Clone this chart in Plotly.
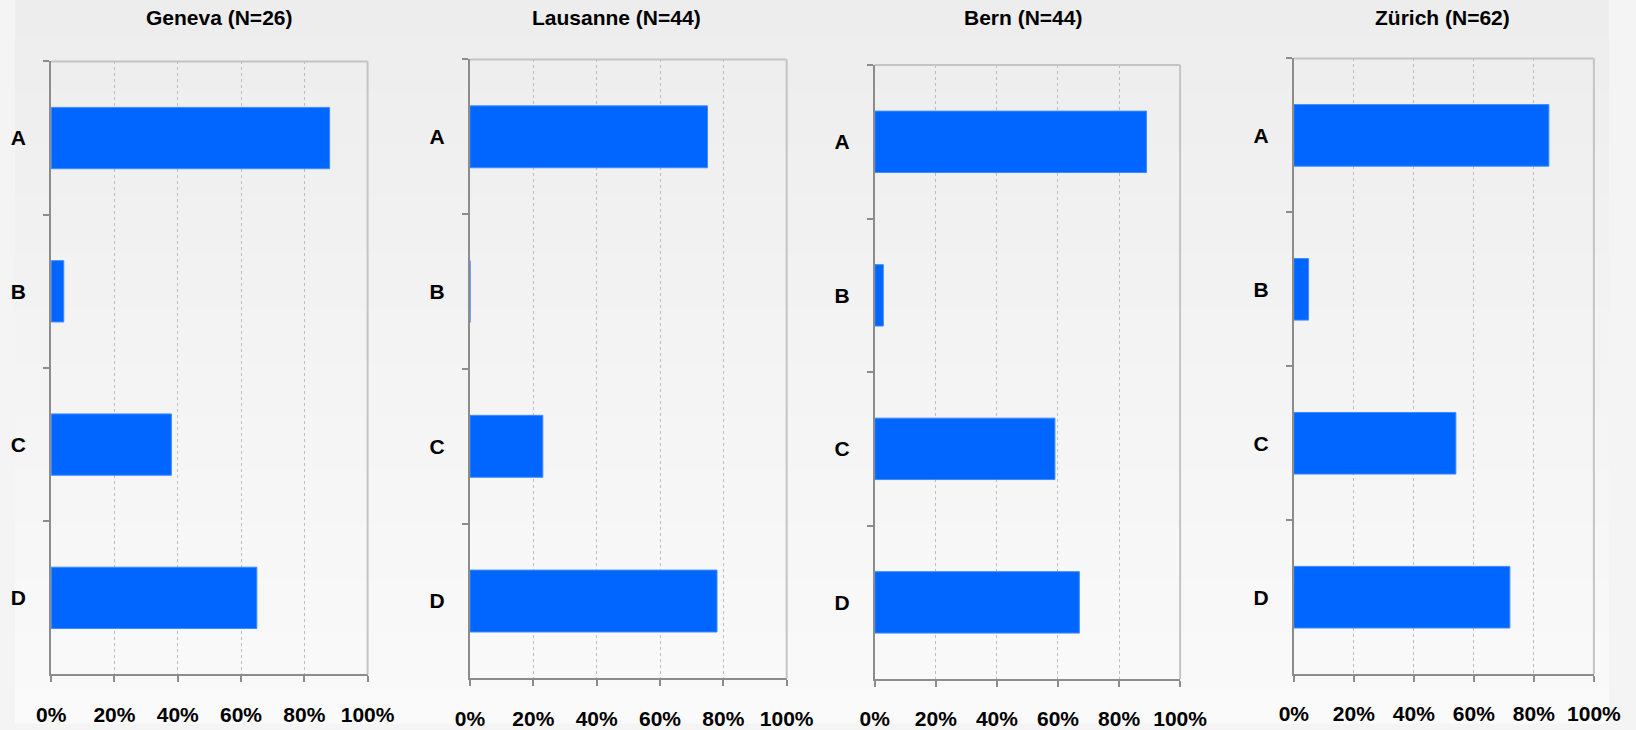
import plotly.graph_objects as go

W, H = 1636, 730  # page size, used only to turn pixel estimates into fractions

categories = ["A", "B", "C", "D"]
titles = ["Geneva (N=26)", "Lausanne (N=44)", "Bern (N=44)", "Zürich (N=62)"]
geneva = [88, 4, 38, 65]
lausanne = [75, 0, 23, 78]
bern = [89, 2.8, 59, 67]
zurich = [85, 4.9, 54, 72]
series = [geneva, lausanne, bern, zurich]
x_ticks = [0, 20, 40, 60, 80, 100]
x_ticktext = ["0%", "20%", "40%", "60%", "80%", "100%"]

# panel boxes measured on the reference, in pixels: (left, right, top, bottom), title x-centre
panels = [
    (49.5, 366.7, 62, 681, 218),
    (469.3, 786.7, 60, 685, 616),
    (875, 1181, 65.7, 685.7, 1024),
    (1295, 1595.7, 59, 680.7, 1444),
]

# horizontal correction for the capture (measured on previous renders)
def fx(x):
    return (x - 13.3) / 0.9765 / W

def fy(y):
    return 1 - y / H

FONT = "Arial, Liberation Sans, sans-serif"
fig = go.Figure()
shapes = []
annotations = []
layout = {}

# background vertical gradient via bands
top_c, bot_c = 237, 250
nb = 40
for i in range(nb):
    c = round(top_c + (bot_c - top_c) * i / (nb - 1))
    shapes.append(dict(type="rect", xref="paper", yref="paper",
                       x0=0, x1=1, y0=1 - (i + 1) / nb - 0.001, y1=1 - i / nb,
                       fillcolor=f"rgb({c},{c},{c})", line=dict(width=0), layer="below"))

for k, (vals, (l, r, t, b, tx)) in enumerate(zip(series, panels)):
    n = "" if k == 0 else str(k + 1)
    xa, ya = "x" + n, "y" + n
    fig.add_trace(go.Bar(
        x=vals, y=categories, orientation="h", xaxis=xa, yaxis=ya,
        marker=dict(color="#0066ff", line=dict(color="#3d8bff", width=1)),
        showlegend=False, hoverinfo="x+y"))
    layout["xaxis" + n] = dict(
        domain=[fx(l), fx(r)], anchor=ya, range=[0, 100],
        tickvals=x_ticks, ticktext=x_ticktext,
        showgrid=True, gridcolor="#bdbdbd", griddash="dot", gridwidth=1,
        showline=True, linecolor="#8c8c8c", linewidth=2,
        ticks="outside", ticklen=6, tickwidth=2, tickcolor="#8c8c8c",
        ticklabelstandoff=14,
        tickfont=dict(family=FONT, size=21, color="#000000", weight="bold"),
        zeroline=False, fixedrange=True)
    layout["yaxis" + n] = dict(
        domain=[fy(b), fy(t)], anchor=xa, type="category",
        categoryorder="array", categoryarray=categories, autorange="reversed",
        showgrid=False, showline=True, linecolor="#8c8c8c", linewidth=2,
        ticks="outside", tickson="boundaries", ticklen=6, tickwidth=2,
        tickcolor="#8c8c8c", ticklabelstandoff=19,
        tickfont=dict(family=FONT, size=21, color="#000000", weight="bold"),
        zeroline=False, fixedrange=True)
    shapes.append(dict(type="line", xref=xa + " domain", yref=ya + " domain",
                       x0=0, x1=1, y0=1, y1=1, line=dict(color="#c4c4c4", width=2)))
    shapes.append(dict(type="line", xref=xa + " domain", yref=ya + " domain",
                       x0=1, x1=1, y0=0, y1=1, line=dict(color="#c4c4c4", width=2)))
    annotations.append(dict(text="<b>" + titles[k] + "</b>", xref="paper", yref="paper",
                            x=fx(tx), y=fy(17.5), xanchor="center", yanchor="middle",
                            showarrow=False, font=dict(family=FONT, size=21, color="#000000")))

fig.update_layout(
    autosize=True, margin=dict(l=0, r=0, t=0, b=0),
    paper_bgcolor="#f4f4f4", plot_bgcolor="rgba(0,0,0,0)",
    bargap=0.6, shapes=shapes, annotations=annotations, **layout)

post = (
    "document.body.style.margin='0';document.body.style.padding='0';"
    "document.body.style.overflow='hidden';document.documentElement.style.overflow='hidden';"
    "document.documentElement.style.background='#f0f0f0';"
)

fig.write_html("out.html", default_width="100vw", default_height="100vh",
               config={"displayModeBar": False, "responsive": True}, post_script=post)
